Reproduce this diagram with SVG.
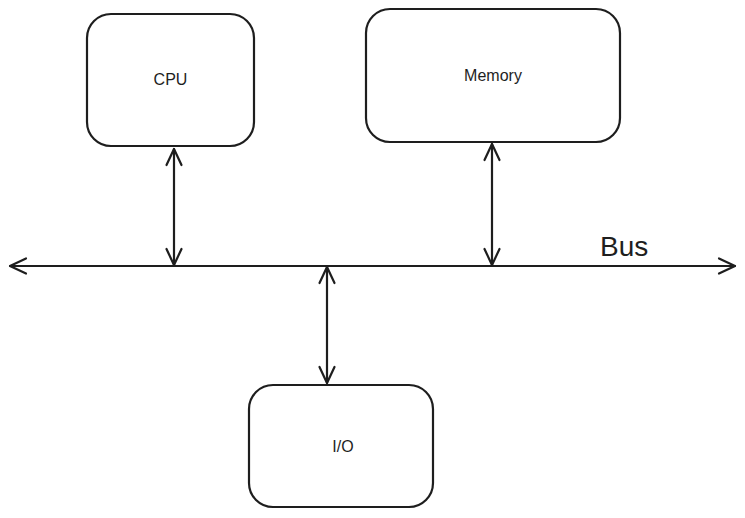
<svg xmlns="http://www.w3.org/2000/svg" width="745" height="518" viewBox="0 0 745 518">
<style>
.box{fill:#fff;stroke:#1e1e1e;stroke-width:2.2}
.lbl{font-family:"Liberation Sans",Arial,sans-serif;font-size:16px;fill:#1e1e1e;text-anchor:middle}
.ln{stroke:#1e1e1e;stroke-width:2.2;fill:none;stroke-linecap:round;stroke-linejoin:round}
</style>
<defs>
<marker id="ah" viewBox="0 0 20 20" refX="18" refY="10" markerWidth="20" markerHeight="20" markerUnits="userSpaceOnUse" orient="auto-start-reverse">
<path d="M2 2.5 L18 10 L2 17.5" fill="none" stroke="#1e1e1e" stroke-width="2.2" stroke-linecap="round" stroke-linejoin="round"/>
</marker>
</defs>
<rect width="745" height="518" fill="#fff"/>
<g id="cpu">
<rect class="box" x="87" y="14" width="167" height="132" rx="24"/>
<text class="lbl" x="170.5" y="85">CPU</text>
</g>
<g id="memory">
<rect class="box" x="366" y="9" width="254" height="133" rx="24"/>
<text class="lbl" x="493" y="81">Memory</text>
</g>
<g id="io">
<rect class="box" x="249" y="385" width="184" height="122" rx="24"/>
<text class="lbl" x="343" y="452">I/O</text>
</g>
<g id="bus-label">
<text x="600" y="256" font-family="Liberation Sans,Arial,sans-serif" font-size="28" fill="#1e1e1e">Bus</text>
</g>
<g id="connectors">
<line class="ln" x1="10" y1="266" x2="735" y2="266" marker-start="url(#ah)" marker-end="url(#ah)"/>
<line class="ln" x1="174" y1="149" x2="174" y2="265" marker-start="url(#ah)" marker-end="url(#ah)"/>
<line class="ln" x1="492" y1="144" x2="492" y2="265" marker-start="url(#ah)" marker-end="url(#ah)"/>
<line class="ln" x1="327" y1="267" x2="327" y2="383" marker-start="url(#ah)" marker-end="url(#ah)"/>
</g>
</svg>
